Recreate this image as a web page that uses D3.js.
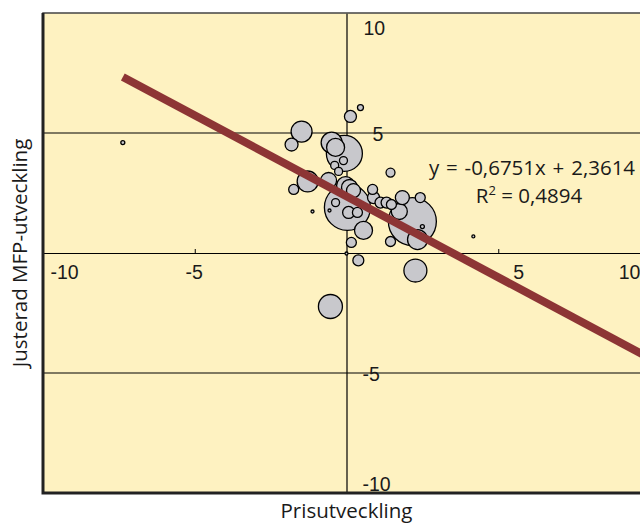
<!DOCTYPE html>
<html>
<head>
<meta charset="utf-8">
<script src="https://cdn.jsdelivr.net/npm/d3@7"></script>
<style>
  body { margin: 0; background: #fff; }
  svg { display: block; font-family: "Open Sans", "Noto Sans", sans-serif; }
</style>
</head>
<body>
<div class="chart"></div>
<script>
'use strict';

// Prisutveckling (x), justerad MFP-utveckling (y), vikt (bubble size)
const prisUtv = [-7.37, -1.48, -1.81, -1.28, -1.74, -1.12, -0.59, -0.49, -0.07, -0.36,
    0.13, 0.46, -0.10, -0.39, -0.26, 0.03, -0.03, 0.10, 0.23, -0.36,
    -0.56, 0.07, 0.36, 0.56, 0.16, 0.00, 0.39, 1.45, 0.86, 0.89,
    1.12, 1.32, 1.48, 1.84, 2.43, 1.74, 2.17, 2.50, 2.34, 1.45,
    2.27, -0.53, 4.18];
const mfpUtv = [4.60, 5.06, 4.52, 2.98, 2.65, 1.73, 3.02, 4.60, 4.15, 4.40,
    5.69, 6.06, 3.85, 3.65, 3.40, 1.90, 2.81, 2.73, 2.60, 2.10,
    1.77, 1.69, 1.69, 0.94, 0.44, -0.02, -0.31, 3.35, 2.65, 2.31,
    2.10, 2.10, 2.02, 2.31, 2.31, 1.73, 1.31, 1.10, 0.56, 0.48,
    -0.73, -2.23, 0.69];
const vikt = [4, 110, 42, 110, 25, 2, 64, 110, 324, 81,
    36, 9, 16, 16, 16, 529, 81, 64, 49, 16,
    2, 36, 25, 81, 25, 2, 30, 20, 25, 36,
    30, 30, 25, 49, 25, 64, 576, 4, 100, 25,
    132, 144, 2];

const trend = {slope: -0.6751, intercept: 2.3614, r2: 0.4894};
const xTicks = [-10, -5, 5, 10];
const yTicks = [-10, -5, 5, 10];
const gridValues = [-5, 5];

const W = 640, H = 524;
const plot = {left: 43, top: 13, right: 650, bottom: 493};

const x = d3.scaleLinear().domain([-10, 10]).range([plot.left, plot.right]);
const y = d3.scaleLinear().domain([-10, 10]).range([plot.bottom, plot.top]);
const r = d3.scaleSqrt().domain([0, d3.max(vikt)]).range([0, 24]);

const fmt = d => String(d).replace('.', ',');

const svg = d3.select('.chart').append('svg')
    .attr('width', W)
    .attr('height', H);

// plot background
svg.append('rect')
    .attr('x', plot.left).attr('y', plot.top)
    .attr('width', plot.right - plot.left).attr('height', plot.bottom - plot.top)
    .attr('fill', '#fef2c1');

// gridlines at +-5
svg.append('g').selectAll('line')
    .data(gridValues)
    .join('line')
    .attr('x1', plot.left).attr('x2', plot.right)
    .attr('y1', d => y(d)).attr('y2', d => y(d))
    .attr('stroke', '#000').attr('stroke-width', 1);

// x axis through y = 0
const xAxis = svg.append('g')
    .attr('transform', `translate(0,${y(0)})`)
    .call(d3.axisBottom(x).tickValues(xTicks).tickSizeInner(-4).tickSizeOuter(0).tickFormat(fmt));
xAxis.select('.domain').attr('stroke', '#000').attr('stroke-width', 1.2);
xAxis.selectAll('.tick line').attr('stroke', '#000');
const xLabelShift = {'-10': 21, '-5': -1, '5': 20, '10': -21};
xAxis.selectAll('.tick text')
    .attr('y', 12)
    .attr('dx', d => xLabelShift[d])
    .attr('font-size', 19.5)
    .attr('font-family', null)
    .attr('fill', '#1a1a1a');

// y axis through x = 0
const yAxis = svg.append('g')
    .attr('transform', `translate(${x(0)},0)`)
    .call(d3.axisRight(y).tickValues(yTicks).tickSize(0).tickFormat(fmt));
yAxis.select('.domain').attr('stroke', '#000').attr('stroke-width', 1.2);
const yLabelShift = {'10': [17, 14], '5': [26, 0], '-5': [16, 0], '-10': [16, -10]};
yAxis.selectAll('.tick text')
    .attr('x', d => yLabelShift[d][0])
    .attr('y', 0)
    .attr('dy', null)
    .attr('transform', d => `translate(0,${yLabelShift[d][1]})`)
    .attr('dominant-baseline', 'central')
    .attr('font-size', 19.5)
    .attr('font-family', null)
    .attr('fill', '#1a1a1a');

// bubbles, biggest first so small ones stay visible
const points = prisUtv.map((d, i) => ({x: d, y: mfpUtv[i], v: vikt[i]}))
    .sort((a, b) => b.v - a.v);

svg.append('g').selectAll('circle')
    .data(points)
    .join('circle')
    .attr('cx', d => x(d.x))
    .attr('cy', d => y(d.y))
    .attr('r', d => Math.max(r(d.v), 1.5))
    .attr('fill', '#c8c8cc')
    .attr('stroke', '#000')
    .attr('stroke-width', 1.3);

// trend line
const xMin = d3.min(prisUtv);
svg.append('line')
    .attr('x1', x(xMin)).attr('y1', y(trend.slope * xMin + trend.intercept))
    .attr('x2', x(10)).attr('y2', y(trend.slope * 10 + trend.intercept))
    .attr('stroke', '#8d3535')
    .attr('stroke-width', 8);

// equation
const eq = svg.append('g')
    .attr('font-size', 20.5)
    .attr('fill', '#1a1a1a')
    .attr('text-anchor', 'middle');
eq.append('text')
    .attr('x', 532).attr('y', 175)
    .attr('word-spacing', 1.5)
    .text(`y = ${fmt(trend.slope)}x + ${fmt(trend.intercept)}`);
const r2 = eq.append('text').attr('x', 529).attr('y', 203);
r2.append('tspan').text('R');
r2.append('tspan').attr('dy', -8).attr('font-size', 13).text('2');
r2.append('tspan').attr('dy', 8).text(` = ${fmt(trend.r2)}`);

// frame
svg.append('rect')
    .attr('x', plot.left).attr('y', plot.top)
    .attr('width', plot.right - plot.left).attr('height', plot.bottom - plot.top)
    .attr('fill', 'none').attr('stroke', '#444').attr('stroke-width', 1.5);
svg.append('path')
    .attr('d', `M${plot.left},${plot.top}V${plot.bottom}H${plot.right}`)
    .attr('fill', 'none').attr('stroke', '#222').attr('stroke-width', 3);

// axis titles
svg.append('text')
    .attr('x', x(0)).attr('y', 518)
    .attr('text-anchor', 'middle')
    .attr('font-size', 20.5)
    .attr('fill', '#1a1a1a')
    .text('Prisutveckling');
svg.append('text')
    .attr('transform', `translate(27,${y(0)}) rotate(-90)`)
    .attr('text-anchor', 'middle')
    .attr('font-size', 20.5)
    .attr('fill', '#1a1a1a')
    .text('Justerad MFP-utveckling');
</script>
</body>
</html>
